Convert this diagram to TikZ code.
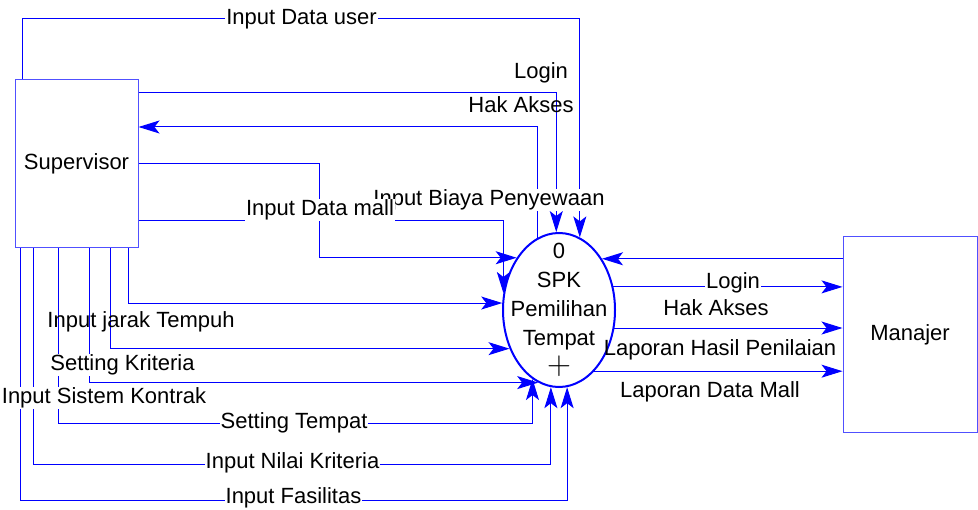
\documentclass[tikz,border=0pt]{standalone}
\usepackage{fontspec}
\setmainfont{Liberation Sans}
\usetikzlibrary{arrows.meta,positioning,shapes.geometric}
\definecolor{flowblue}{RGB}{0,0,255}
\definecolor{edgeblue}{RGB}{80,80,255}
\tikzset{
  entity/.style={draw=edgeblue, line width=1pt, rectangle, inner sep=0pt},
  procnode/.style={draw=flowblue, line width=2pt, ellipse, minimum width=112pt, minimum height=154pt, inner sep=0pt},
  flow/.style={draw=flowblue, line width=1pt, -{Stealth[length=21pt,width=13pt,inset=5pt]}},
  lbl/.style={fill=white, inner sep=1pt},
  lbltxt/.style={inner sep=1pt}
}

\begin{document}
\begin{tikzpicture}[x=1pt, y=-1pt, font=\fontsize{22}{29}\selectfont]
\useasboundingbox (0,0) rectangle (978,510);
\node[entity, minimum width=123pt, minimum height=168pt] (sup) at (76.5,164) {Supervisor};
\node[entity, minimum width=134pt, minimum height=196pt] (man) at (910,335) {Manajer};
\node[procnode] (proc) at (559,310) {};
\node[align=center, inner sep=0pt] (proctxt) at (proc.center) {0\\SPK\\Pemilihan\\Tempat\\\scalebox{1.6}{$+$}};

\draw[flow] ([xshift=8pt]sup.north west) -- ++(0,-61) -| (proc.74.5);
\draw[flow] ([yshift=71pt]sup.east) -| (proc.92.2);
\draw[flow] (proc.107.3) |- ([yshift=37pt]sup.east);
\draw[flow] (sup.east) -- ++(181,0) |- (proc.129.5);
\draw[flow] ([yshift=-57pt]sup.east) -| (proc.163);
\draw[flow] ([xshift=-10pt]sup.south east) |- (proc.173.9);
\draw[flow] ([xshift=-28pt]sup.south east) |- (proc.218);
\draw[flow] ([xshift=-49pt]sup.south east) |- (proc.254.6);
\draw[flow] ([xshift=-80pt]sup.south east) -- ++(0,175) -| (proc.249.1);
\draw[flow] ([xshift=-105pt]sup.south east) -- ++(0,216) -| (proc.264.8);
\draw[flow] ([xshift=-118pt]sup.south east) -- ++(0,252) -| (proc.276.7);
\draw[flow] (proc.50.55 -| man.west) -- (proc.50.55);
\draw[flow] (proc.23.3) -- (proc.23.3 -| man.west);
\draw[flow] (proc.342.7) -- (proc.342.7 -| man.west);
\draw[flow] (proc.300.3) -- (proc.300.3 -| man.west);

\node[lbl] (tUser) at (301.5,19) {Input Data user};
\node[lbltxt] (tLogin) at (541,73) {Login};
\node[lbltxt] (tHak) at (521,105) {Hak Akses};
\node[lbl] (tBiaya) at (489,200) {Input Biaya Penyewaan};
\node[lbl] (tMall) at (320,210) {Input Data mall};
\node[lbltxt] (tJarak) at (141,322) {Input jarak Tempuh};
\node[lbl] (tKrit) at (122.5,365) {Setting Kriteria};
\node[lbl] (tKontrak) at (104,398) {Input Sistem Kontrak};
\node[lbl] (tTempat) at (294,423) {Setting Tempat};
\node[lbl] (tNilai) at (292.5,463) {Input Nilai Kriteria};
\node[lbl] (tFas) at (293.5,498) {Input Fasilitas};
\node[lbl] (tLogin2) at (733,283) {Login};
\node[lbltxt] (tHak2) at (716,308) {Hak Akses};
\node[lbltxt] (tHasil) at (720,350) {Laporan Hasil Penilaian};
\node[lbltxt] (tDataMall) at (710,392) {Laporan Data Mall};
\end{tikzpicture}
\end{document}
